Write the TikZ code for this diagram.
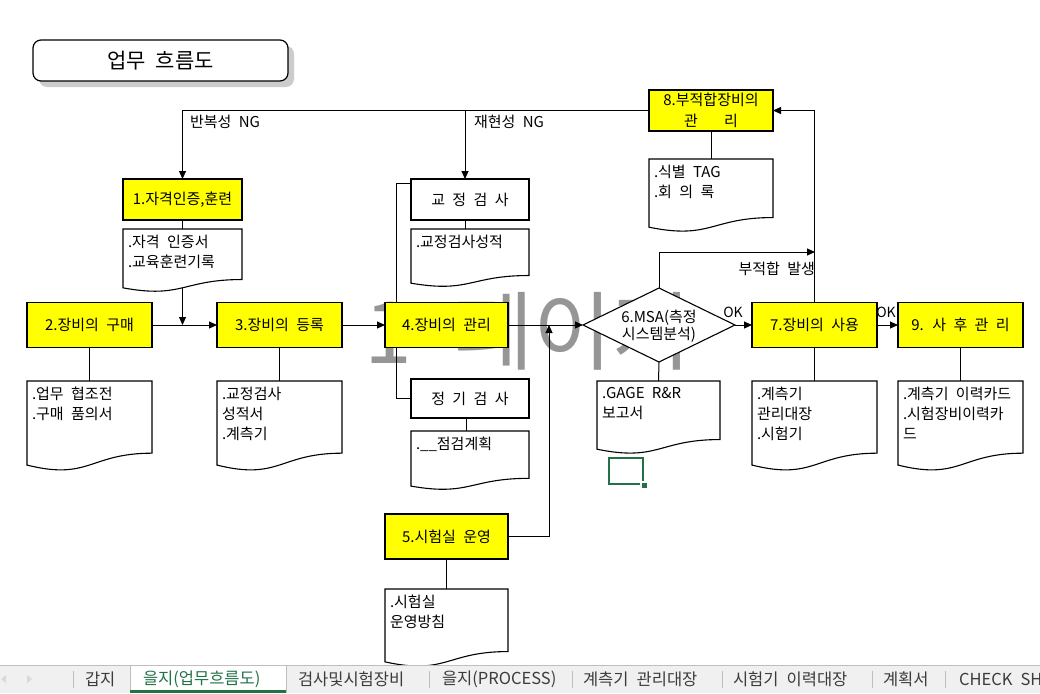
\documentclass[tikz,border=0pt]{standalone}
\usepackage{fontspec}
\setmainfont{Noto Sans CJK KR}[WordSpace=2.2]
\usetikzlibrary{arrows.meta,shapes.geometric,calc}
\definecolor{ylw}{RGB}{255,255,0}
\definecolor{xlgreen}{RGB}{33,115,70}
\definecolor{wmark}{RGB}{150,150,150}
\definecolor{tabbg}{RGB}{240,240,240}
\definecolor{tabtxt}{RGB}{60,60,60}
\definecolor{tabline}{RGB}{190,190,190}
\newcommand\docbox[6]{%
  \filldraw[fill=white, line width=1.1pt] (#2,#3) -- ({#2+#4},#3) -- ({#2+#4},{#3+0.802*#5}) .. controls ({#2+0.5*#4},{#3+0.802*#5}) and ({#2+0.5*#4},{#3+1.108*#5}) .. (#2,{#3+0.934*#5}) -- cycle;
  \pgfmathsetmacro\docdh{0.933*#5}%
  \node[minimum width=#4pt, minimum height=\docdh pt, anchor=north west] (#1) at (#2,#3) {};
  \node[doctext] (#1t) at ({#2+5},{#3+6}) {#6};
}
\begin{document}
\begin{tikzpicture}[x=1pt,y=-1pt,
  every node/.style={inner sep=0pt, outer sep=0pt},
  ybox/.style={draw, fill=ylw, line width=1.1pt, minimum width=125pt, minimum height=45pt, font=\fontsize{15}{20}\selectfont, align=center},
  wbox/.style={draw, fill=white, line width=1.1pt, minimum width=118pt, font=\fontsize{15}{18}\selectfont},
  ln/.style={line width=1pt},
  arr/.style={line width=1pt, -{Triangle[length=8pt,width=7pt]}},
  doctext/.style={anchor=north west, align=left, font=\fontsize{15}{20}\selectfont},
  lbl/.style={font=\fontsize{15}{18}\selectfont},
  tab/.style={font=\fontsize{16.5}{18}\selectfont, text=tabtxt, anchor=west},
]
\useasboundingbox (0,0) rectangle (1040,693);
\fill[white] (0,0) rectangle (1040,693);

% watermark
\node[font=\fontsize{86}{86}\selectfont, text=wmark, anchor=west] (wm) at (364,331) {1 페이지};

% title
\fill[gray!40, rounded corners=8pt] (39,46) rectangle (294,87);
\node[draw, fill=white, rounded corners=8pt, line width=1.2pt, minimum width=255pt, minimum height=41pt, font=\fontsize{21}{24}\selectfont] (title) at (160.5,60.5) {업무 흐름도};

% process nodes
\node[ybox, minimum width=119pt, minimum height=41pt] (n1) at (182.5,199.5) {1.자격인증,훈련};
\node[ybox] (n2) at (89.5,325) {2.장비의 구매};
\node[ybox] (n3) at (279.5,325) {3.장비의 등록};
\node[ybox, minimum width=123pt] (n4) at (446.5,325) {4.장비의 관리};
\node[ybox, minimum width=123pt] (n5) at (446.5,536.5) {5.시험실 운영};
\node[ybox] (n7) at (814.5,325) {7.장비의 사용};
\node[ybox] (n9) at (960.5,325) {9. 사 후 관 리};
\node[ybox, minimum width=124pt, minimum height=41pt, font=\fontsize{15}{21}\selectfont] (n8) at (711,110.5) {8.부적합장비의\\관\hspace{26pt}리};
\node[wbox, minimum height=41pt] (kj) at (470,199.5) {교 정 검 사};
\node[wbox, minimum height=39pt] (jg) at (470,398.5) {정 기 검 사};
\node[diamond, draw, fill=white, line width=1.1pt, minimum width=152pt, minimum height=74pt] (dm) at (659,325) {};
\node[font=\fontsize{15}{17}\selectfont, align=center] (dmt) at (659,326) {6.MSA(측정\\시스템분석)};

% documents
\docbox{d1}{123}{229}{119}{63}{.자격 인증서\\.교육훈련기록}
\docbox{d2}{27}{381}{125}{90}{.업무 협조전\\.구매 품의서}
\docbox{d3}{217}{381}{125}{90}{.교정검사\\성적서\\.계측기}
\docbox{dkj}{411}{229}{118}{58}{.교정검사성적}
\docbox{djg}{411}{431}{118}{59}{.\_\_점검계획}
\docbox{d5}{385}{589}{123}{78}{.시험실\\운영방침}
\docbox{d6}{597}{381}{123}{73}{.GAGE R\&R\\보고서}
\docbox{d7}{752}{381}{125}{90}{.계측기\\관리대장\\.시험기}
\docbox{d9}{898}{381}{125}{90}{.계측기 이력카드\\.시험장비이력카\\드}
\docbox{d8}{649}{159}{124}{73}{.식별 TAG\\.회 의 록}

% connectors
\coordinate (kjt) at ([xshift=-5pt]kj.north);
\coordinate (kjb) at ([xshift=-5pt]kj.south);
\coordinate (jgb) at ([xshift=-4pt]jg.south);
\draw[arr] (n8.west) -| (n1.north);
\draw[arr] (kjt |- n8.west) -- (kjt);
\node[lbl, anchor=west] (ng1) at (190,122) {반복성 NG};
\node[lbl, anchor=west] (ng2) at (474,122) {재현성 NG};

\draw[ln] (n1.south) -- (d1.north);
\draw[arr] (d1.south) -- (d1.south |- n2.east);
\draw[arr] (n2.east) -- (n3.west);
\draw[arr] (n3.east) -- (n4.west);
\draw[arr] (n4.east) -- (dm.west);
\draw[arr] (dm.east) -- (n7.west);
\draw[arr] (n7.east) -- (n9.west);
\node[font=\fontsize{14}{16}\selectfont] (ok1) at (733,312) {OK};
\node[font=\fontsize{14}{16}\selectfont] (ok2) at (886,312) {OK};

\draw[ln] (n2.south) -- (d2.north);
\draw[ln] (n3.south) -- (d3.north);
\draw[ln] (kjb) -- (kjb |- dkj.north);
\draw[ln] (jgb) -- (jgb |- djg.north);
\draw[ln] (n5.south) -- (d5.north);
\draw[ln] (dm.south) -- (d6.north);
\draw[ln] (n7.south) -- (d7.north);
\draw[ln] (n9.south) -- (d9.north);
\draw[ln] (n8.south) -- (d8.north);

\draw[ln] ([xshift=-50.5pt]n4.north) |- ([yshift=-4pt]kj.north west);
\draw[ln] ([xshift=-50.5pt]n4.south) |- (jg.west);

\coordinate (j5) at (549,325);
\draw[arr] (n5.east) -| (j5);

\coordinate (c1) at (815,252);
\draw[arr] (dm.north) |- (c1);
\node[lbl, anchor=east] (bj) at (815,269) {부적합 발생};
\draw[arr] (n7.north) |- (n8.east);

% excel selection
\draw[xlgreen, line width=2.5pt] (609,458) rectangle (643,484);
\fill[white] (640,481) rectangle (648,489);
\fill[xlgreen] (641.5,482.5) rectangle (646.5,487.5);

% sheet tab bar
\fill[tabbg] (0,665) rectangle (1040,693);
\draw[tabline, line width=1pt] (0,665.5) -- (1040,665.5);
\fill[white] (130,666) rectangle (286,693);
\draw[tabline, line width=1pt] (130,666) -- (130,693) (286,666) -- (286,693);
\fill[xlgreen] (130,690) rectangle (286,693);
\foreach \x in {73,429,572,722,872,945} \draw[tabline, line width=1pt] (\x,671) -- (\x,688);
\fill[gray!30] (1,679) -- (6,675) -- (6,683) -- cycle;
\fill[gray!30] (32,679) -- (27,675) -- (27,683) -- cycle;
\node[tab] (t1) at (85,679) {갑지};
\node[tab, text=xlgreen] (t2) at (143,679) {을지(업무흐름도)};
\node[tab] (t3) at (298,679) {검사및시험장비};
\node[tab] (t4) at (442,679) {을지(PROCESS)};
\node[tab] (t5) at (583,679) {계측기 관리대장};
\node[tab] (t6) at (733,679) {시험기 이력대장};
\node[tab] (t7) at (883,679) {계획서};
\node[tab] (t8) at (959,679) {CHECK SH};
\end{tikzpicture}
\end{document}
